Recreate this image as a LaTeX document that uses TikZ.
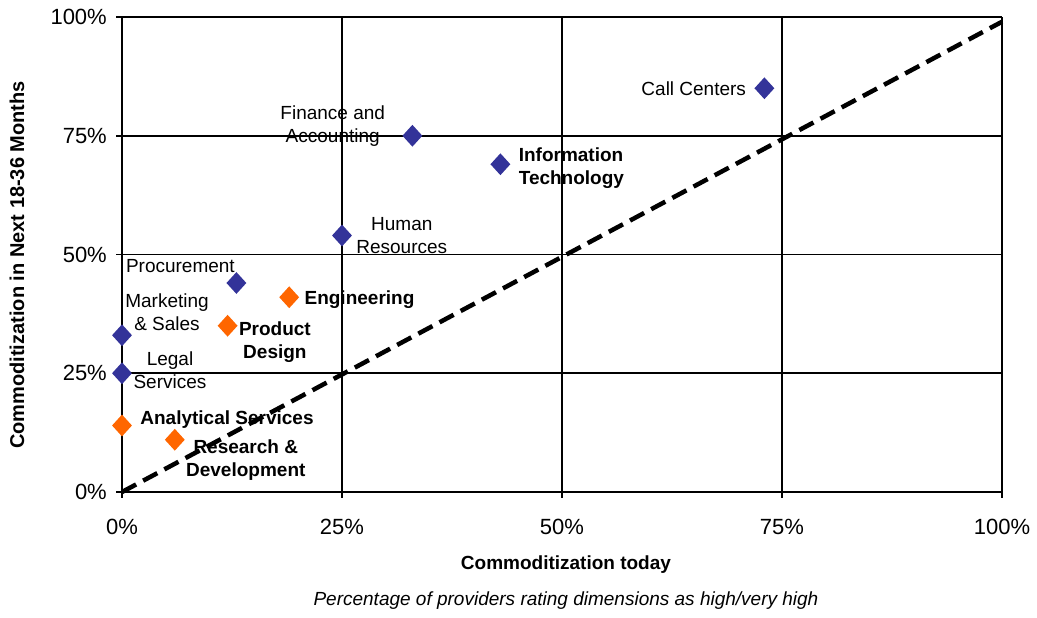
\documentclass[tikz,border=0pt]{standalone}
\usepackage{fontspec}
\setmainfont{Liberation Sans}
\usepackage{tikz}
\usetikzlibrary{shapes.geometric,positioning}
\definecolor{dimblue}{HTML}{333399}
\definecolor{dimorange}{HTML}{FF6600}

\begin{document}
\begin{tikzpicture}[x=8.8pt,y=4.75pt,node distance=8pt,font=\fontsize{19pt}{23pt}\selectfont]
            \tikzstyle{dim}=[diamond,inner sep=0pt,minimum width=20pt,minimum height=22pt]
            \tikzstyle{service}=[dim,fill=dimblue]
            \tikzstyle{design}=[dim,fill=dimorange]
            \tikzstyle{lbl}=[inner sep=0pt,align=center]
            \tikzstyle{blbl}=[lbl,font=\fontsize{19pt}{23pt}\selectfont\bfseries]
            \tikzstyle{ticklbl}=[inner sep=0pt,font=\fontsize{22pt}{26pt}\selectfont]
            \tikzstyle{grid}=[line width=1.6pt]
            \tikzstyle{diag}=[line width=4.5pt,dash pattern=on 16pt off 8pt]
            \useasboundingbox (-13.864,-26.316) rectangle (103.977,103.579);
            % grid, ticks and tick labels
            \foreach \v in {0,25,50,75,100} {
                \draw[grid] (\v,0) -- (\v,100);
                \draw[grid] (0,\v) -- (100,\v);
                \draw[grid] (\v,0) -- ++(0,-6pt);
                \draw[grid] (0,\v) -- ++(-6pt,0);
                \node[ticklbl,anchor=east] (yt\v) at ([xshift=-15pt]0,\v) {\v\%};
                \node[ticklbl] (xt\v) at ([yshift=-35pt]\v,0) {\v\%};
            }
            % diagonal
            \coordinate (origin) at (0,0);
            \coordinate (diagtop) at (100,99);
            \draw[diag] (origin) -- (diagtop);
            % functions
            \node[service] (callcenters) at (73,85) {};
            \node[lbl,left=8pt of callcenters] (callcenterslbl) {Call Centers};
            \node[service] (finance) at (33,75) {};
            \node[lbl,left=17pt of finance,yshift=10pt] (financelbl) {Finance and\\Accounting};
            \node[service] (infotech) at (43,69) {};
            \node[blbl,align=left,right=8pt of infotech,yshift=-3.5pt] (infotechlbl) {Information\\Technology};
            \node[service] (human) at (25,54) {};
            \node[lbl,right=4pt of human] (humanlbl) {Human\\Resources};
            \node[service] (procure) at (13,44) {};
            \node[lbl] (procurelbl) at ([xshift=-56pt,yshift=17pt]procure) {Procurement};
            \node[service] (marketing) at (0,33) {};
            \node[lbl] (marketinglbl) at ([xshift=45pt,yshift=23pt]marketing) {Marketing\\\& Sales};
            \node[service] (legal) at (0,25) {};
            \node[lbl] (legallbl) at ([xshift=48pt,yshift=3pt]legal) {Legal\\Services};
            \node[design] (analytic) at (0,14) {};
            \node[blbl,right=8pt of analytic,yshift=6pt] (analyticlbl) {Analytical Services};
            \node[design] (research) at (6,11) {};
            \node[blbl] (researchlbl) at ([xshift=71pt,yshift=-20pt]research) {Research \&\\Development};
            \node[design] (engineer) at (19,41) {};
            \node[blbl,right=5pt of engineer,yshift=-2pt] (engineerlbl) {Engineering};
            \node[design] (prodesign) at (12,35) {};
            \node[blbl,right=1pt of prodesign,yshift=-16pt] (prodesignlbl) {Product\\Design};
            % axis titles
            \node[blbl] (xtitle) at (50.45,-15.37) {Commoditization today};
            \node[lbl,font=\fontsize{19pt}{23pt}\selectfont\itshape] (subtitle) at (50.45,-22.95) {Percentage of providers rating dimensions as high/very high};
            \node[blbl,font=\fontsize{20pt}{24pt}\selectfont\bfseries,rotate=90] (ytitle) at (-11.93,47.79) {Commoditization in Next 18-36 Months};
        \end{tikzpicture}
\end{document}
